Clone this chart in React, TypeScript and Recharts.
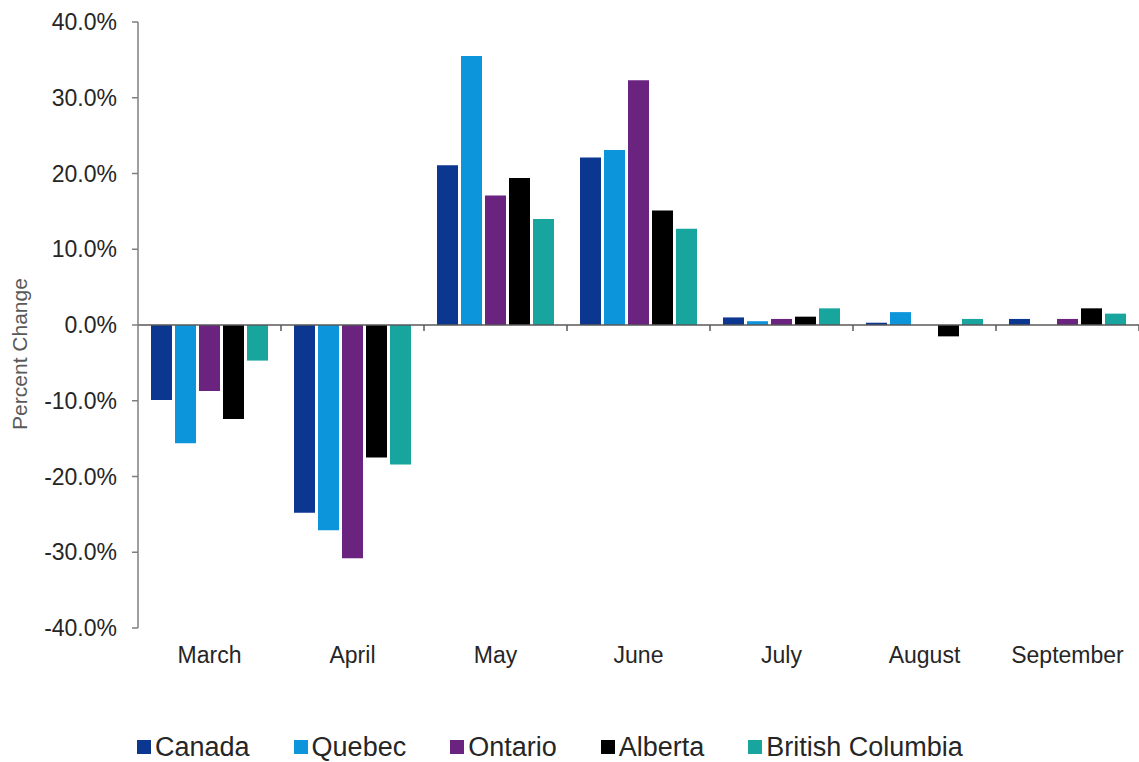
import { BarChart, Bar, XAxis, YAxis, ReferenceLine, Legend, Label } from 'recharts'

// monthly % change by region
const months = ['March', 'April', 'May', 'June', 'July', 'August', 'September']
const canada = [-9.9, -24.8, 21.1, 22.1, 1.0, 0.3, 0.8]
const quebec = [-15.6, -27.1, 35.5, 23.1, 0.5, 1.7, 0]
const ontario = [-8.7, -30.8, 17.1, 32.3, 0.8, 0, 0.8]
const alberta = [-12.4, -17.5, 19.4, 15.1, 1.1, -1.5, 2.2]
const britishColumbia = [-4.7, -18.4, 14.0, 12.7, 2.2, 0.8, 1.5]
const yTicks = [-40, -30, -20, -10, 0, 10, 20, 30, 40]

const series = [
  { key: 'canada', name: 'Canada', values: canada, color: '#0b3790' },
  { key: 'quebec', name: 'Quebec', values: quebec, color: '#0d95dc' },
  { key: 'ontario', name: 'Ontario', values: ontario, color: '#6b2380' },
  { key: 'alberta', name: 'Alberta', values: alberta, color: '#000000' },
  { key: 'bc', name: 'British Columbia', values: britishColumbia, color: '#17a59e' },
]

const data = months.map((month, i) => {
  const row: Record<string, string | number> = { month }
  series.forEach(s => { row[s.key] = s.values[i] })
  return row
})

const FONT = '"Liberation Sans", Arial, sans-serif'
const TEXT = '#262626'
const order = series.map(s => s.name)

function LegendContent(props: any) {
  // keep the series order instead of the legend's alphabetical sort
  const items = [...(props.payload || [])].sort(
    (a: any, b: any) => order.indexOf(a.value) - order.indexOf(b.value)
  )
  return (
    <div style={{ display: 'flex', alignItems: 'center', height: 30, paddingTop: 10, paddingLeft: 137, fontFamily: FONT }}>
      {items.map((item: any) => (
        <div key={item.value} style={{ display: 'flex', alignItems: 'center', marginRight: 44 }}>
          <span style={{ width: 14, height: 14, background: item.color, marginRight: 4, display: 'inline-block' }} />
          <span style={{ fontSize: 27, color: TEXT }}>{item.value}</span>
        </div>
      ))}
    </div>
  )
}

export default function App() {
  return (
    <div style={{ position: 'absolute', left: 0, top: 0, background: '#fff' }}>
      <BarChart
        width={1139}
        height={762}
        data={data}
        margin={{ top: 22, right: 0, bottom: 0, left: 0 }}
        barCategoryGap={13}
        barGap={3}
        style={{ fontFamily: FONT }}
      >
        <XAxis
          dataKey="month"
          axisLine={false}
          tickLine={false}
          tickSize={6}
          tickMargin={13}
          height={94}
          interval={0}
          tick={{ fontSize: 23, fill: TEXT, fontFamily: FONT }}
        />
        <YAxis
          type="number"
          domain={[-40, 40]}
          ticks={yTicks}
          width={138}
          stroke="#7f7f7f"
          strokeWidth={1.5}
          tickSize={6}
          tickMargin={15}
          tickFormatter={(v: number) => `${v.toFixed(1)}%`}
          tick={{ fontSize: 23, fill: TEXT, fontFamily: FONT }}
        >
          <Label
            value="Percent Change"
            angle={-90}
            position="insideLeft"
            offset={20}
            dy={29}
            style={{ textAnchor: 'middle', fontSize: 21, fill: '#595959', fontFamily: FONT }}
          />
        </YAxis>
        <Legend verticalAlign="bottom" align="left" height={40} content={<LegendContent />} />
        {series.map(s => (
          <Bar key={s.key} dataKey={s.key} name={s.name} fill={s.color} isAnimationActive={false} />
        ))}
        <ReferenceLine y={0} stroke="#595959" strokeWidth={1.5} />
        {months.slice(1).map(m => (
          <ReferenceLine
            key={m}
            position="start"
            segment={[{ x: m, y: 0 }, { x: m, y: -0.8 }]}
            stroke="#595959"
            strokeWidth={1.5}
          />
        ))}
        <ReferenceLine
          position="end"
          segment={[{ x: 'September', y: 0 }, { x: 'September', y: -0.8 }]}
          stroke="#595959"
          strokeWidth={1.5}
        />
      </BarChart>
    </div>
  )
}
